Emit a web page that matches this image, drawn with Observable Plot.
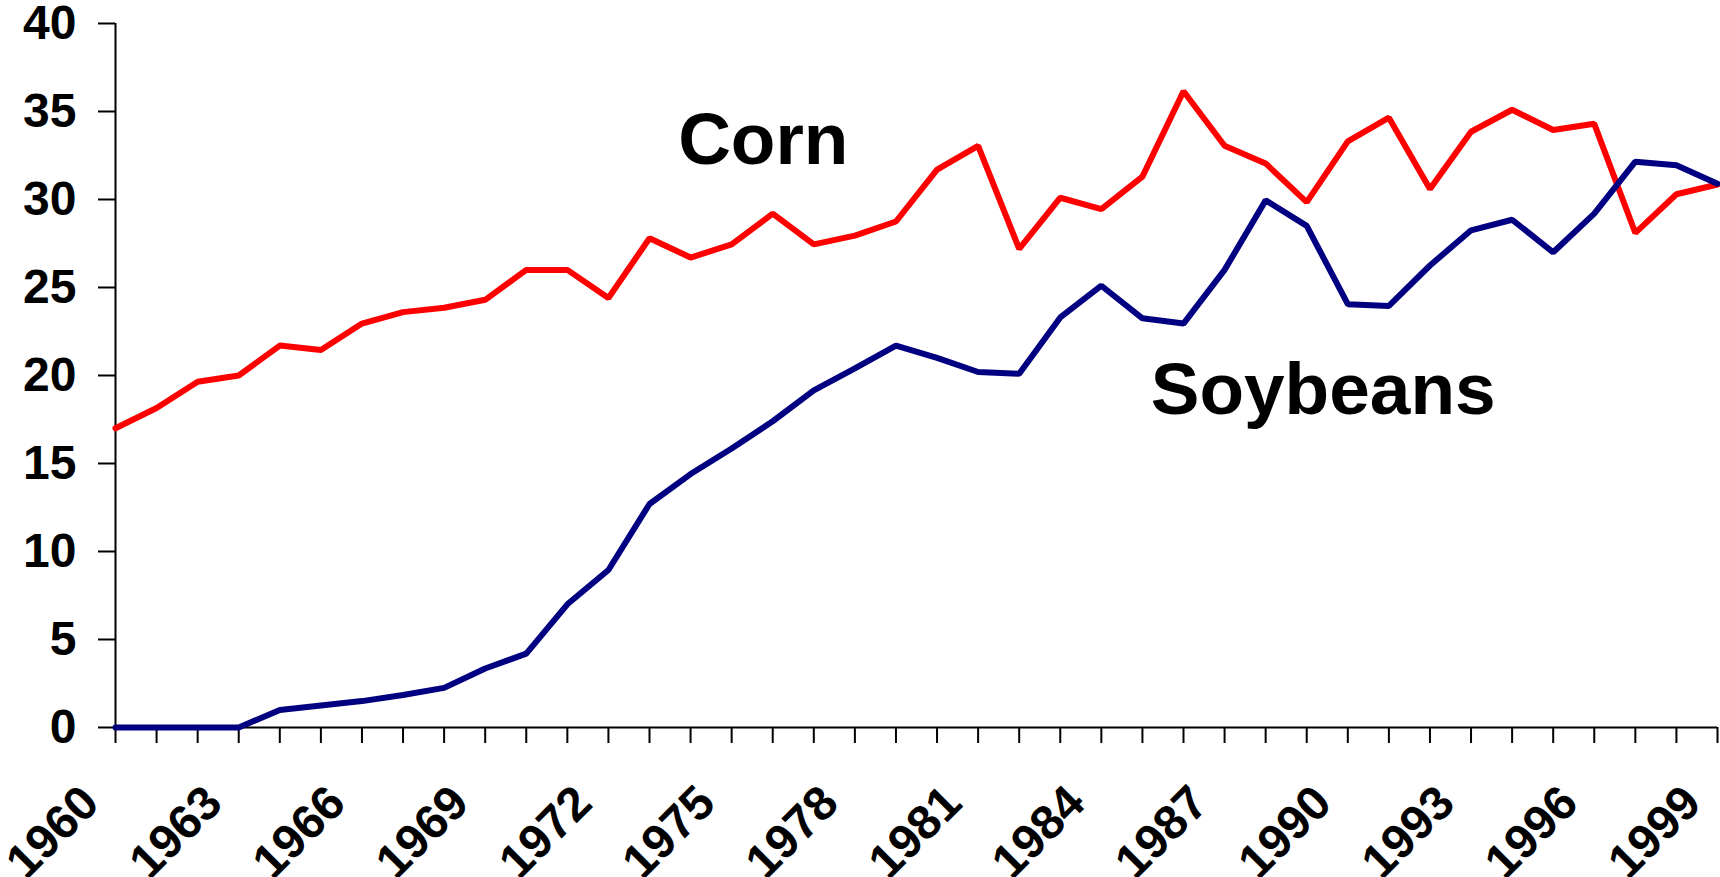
<!DOCTYPE html>
<html>
<head>
<meta charset="utf-8">
<script src="https://cdn.jsdelivr.net/npm/d3@7"></script>
<script src="https://cdn.jsdelivr.net/npm/@observablehq/plot@0.6"></script>
<style>
  html, body { margin: 0; padding: 0; background: #fff; }
  #chart svg { display: block; }
</style>
</head>
<body>
<div id="chart"></div>
<script>
const years = [1960,1961,1962,1963,1964,1965,1966,1967,1968,1969,
               1970,1971,1972,1973,1974,1975,1976,1977,1978,1979,
               1980,1981,1982,1983,1984,1985,1986,1987,1988,1989,
               1990,1991,1992,1993,1994,1995,1996,1997,1998,1999];
const labelYears = [1960,1963,1966,1969,1972,1975,1978,1981,1984,1987,1990,1993,1996,1999];
const yTicks = [0,5,10,15,20,25,30,35,40];

const corn = [17.0,18.15,19.65,20.0,21.7,21.45,22.95,23.6,23.85,24.3,
              26.0,26.0,24.4,27.8,26.7,27.45,29.2,27.45,27.95,28.75,
              31.7,33.05,27.2,30.1,29.45,31.3,36.15,33.05,32.05,29.85,
              33.3,34.65,30.6,33.85,35.1,33.95,34.3,28.1,30.3,30.85];
const soybeans = [0,0,0,0,1.0,1.25,1.5,1.85,2.25,3.35,
                  4.2,7.0,8.95,12.7,14.4,15.85,17.4,19.15,20.4,21.7,
                  21.0,20.2,20.1,23.3,25.1,23.25,22.95,26.0,29.95,28.5,
                  24.05,23.95,26.25,28.25,28.85,27.0,29.2,32.15,31.95,30.9];

const seriesNames = ["Corn", "Soybeans"];
const seriesColors = ["#ff0000", "#000080"];
const labelX = [1975.77, 1989.4];
const labelY = [32.0, 17.8];

const rows = [];
years.forEach((yr, i) => {
  rows.push({year: yr, value: corn[i], series: "Corn"});
  rows.push({year: yr, value: soybeans[i], series: "Soybeans"});
});
const labels = seriesNames.map((n, i) => ({name: n, x: labelX[i], y: labelY[i]}));

const font = "'Liberation Sans', Arial, Helvetica, sans-serif";

const chart = Plot.plot({
  width: 1720,
  height: 877,
  marginLeft: 115,
  marginRight: 3,
  marginTop: 23,
  marginBottom: 150,
  style: {fontFamily: font, background: "#fff", color: "#000", overflow: "visible"},
  x: {domain: [1960, 1999], axis: null},
  y: {domain: [0, 40], axis: null},
  color: {domain: seriesNames, range: seriesColors},
  marks: [
    Plot.axisY({ticks: yTicks, tickSize: 17, tickPadding: 22, fontSize: 48, fontWeight: "bold",
                tickFormat: d => String(d), strokeWidth: 2, label: null}),
    Plot.axisX({ticks: years, tickSize: 16, tickFormat: () => "", strokeWidth: 2, label: null}),
    Plot.text(labelYears, {x: d => d, frameAnchor: "bottom", text: d => String(d),
                rotate: -45, textAnchor: "end", lineAnchor: "bottom",
                dx: -14, dy: 78, fontSize: 48, fontWeight: "bold", fill: "#000"}),
    Plot.ruleX([1960], {y1: 0, y2: 40, stroke: "#000", strokeWidth: 2}),
    Plot.ruleY([0], {stroke: "#000", strokeWidth: 2}),
    Plot.line(rows, {x: "year", y: "value", z: "series", stroke: "series", strokeWidth: 6,
                     strokeLinejoin: "miter", strokeLinecap: "round"}),
    Plot.text(labels, {x: "x", y: "y", text: "name", textAnchor: "middle", lineAnchor: "bottom",
                       fontSize: 73, fontWeight: "bold", fill: "#000"})
  ]
});
document.getElementById("chart").appendChild(chart);
</script>
</body>
</html>
